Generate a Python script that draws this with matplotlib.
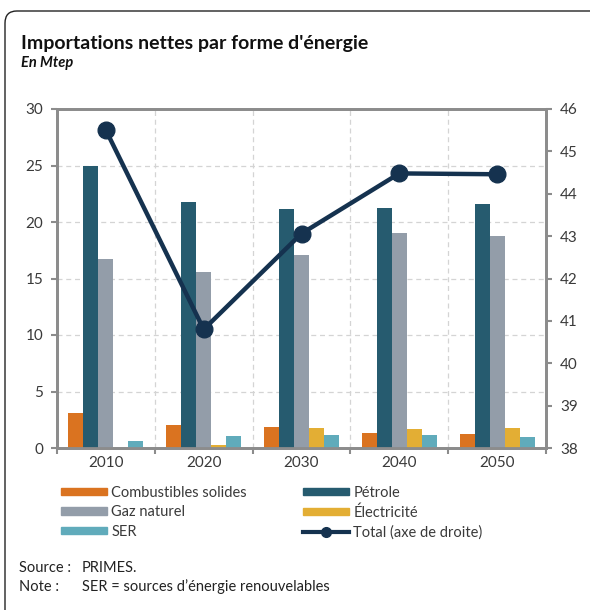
import matplotlib.pyplot as plt
from matplotlib.lines import Line2D
from matplotlib.patches import FancyBboxPatch, Patch


# ========================================================
# DONNEES
# ========================================================

annees = ["2010", "2020", "2030", "2040", "2050"]

combustibles_solides = [3.1, 2.0, 1.85, 1.35, 1.25]
petrole = [24.95, 21.75, 21.15, 21.2, 21.6]
gaz_naturel = [16.75, 15.6, 17.05, 19.0, 18.8]
electricite = [0.0, 0.27, 1.77, 1.65, 1.77]
ser = [0.58, 1.06, 1.15, 1.12, 0.95]

total = [45.5, 40.8, 43.06, 44.48, 44.46]

noms_series = [
    "Combustibles solides",
    "Pétrole",
    "Gaz naturel",
    "Électricité",
    "SER",
]

couleurs = [
    "#DA7320",
    "#265B6F",
    "#939DA9",
    "#E3AE34",
    "#60ABBB",
]

couleur_total = "#15324F"
couleur_texte = "#3a3a3a"
couleur_axe = "#8c8c8c"

plt.rcParams["font.family"] = ["Lato", "DejaVu Sans"]


def tracer_graphique(output_path):

    figure = plt.figure(
        figsize=(5.9, 6.1),
        dpi=100,
    )

    # ====================================================
    # CADRE ARRONDI
    # ====================================================

    cadre = FancyBboxPatch(
        (5 / 590, -0.05),
        1.1,
        1.05 - 11 / 610,
        boxstyle="round,pad=0,rounding_size=0.02",
        transform=figure.transFigure,
        facecolor="none",
        edgecolor="#222222",
        linewidth=1.0,
        clip_on=False,
    )
    figure.patches.append(cadre)

    # ====================================================
    # TITRES
    # ====================================================

    figure.text(
        21 / 590,
        1 - 43 / 610,
        "Importations nettes par forme d'énergie",
        fontsize=14,
        fontweight="bold",
        color="#111111",
        va="center",
    )

    figure.text(
        21 / 590,
        1 - 63 / 610,
        "En Mtep",
        fontsize=10.5,
        fontweight="bold",
        fontstyle="italic",
        color="#111111",
        va="center",
    )

    # ====================================================
    # BARRES
    # ====================================================

    axis = figure.add_axes(
        [57 / 590, 162 / 610, 489 / 590, 339 / 610]
    )

    largeur = 0.153
    positions = range(len(annees))
    series = [
        combustibles_solides,
        petrole,
        gaz_naturel,
        electricite,
        ser,
    ]

    for index, valeurs in enumerate(series):

        axis.bar(
            [p + (index - 2) * largeur for p in positions],
            valeurs,
            width=largeur,
            color=couleurs[index],
            label=noms_series[index],
            zorder=3,
        )

    axis.set_xlim(-0.5, len(annees) - 0.5)
    axis.set_ylim(0, 30)
    axis.set_yticks(range(0, 31, 5))

    axis.set_xticks([p - 0.5 for p in range(len(annees) + 1)])
    axis.set_xticklabels([])
    axis.set_xticks(list(positions), minor=True)
    axis.set_xticklabels(annees, minor=True)

    axis.tick_params(
        axis="x",
        which="major",
        direction="out",
        length=4,
        width=1.5,
        color=couleur_axe,
    )
    axis.tick_params(
        axis="x",
        which="minor",
        length=0,
        pad=6,
        labelsize=11,
        labelcolor=couleur_texte,
    )
    axis.tick_params(
        axis="y",
        direction="out",
        length=4,
        width=1.5,
        color=couleur_axe,
        labelsize=11,
        labelcolor=couleur_texte,
        pad=6,
    )

    axis.grid(
        True,
        which="major",
        color="#d4d4d4",
        linestyle=(0, (4, 3)),
        linewidth=0.9,
        zorder=0,
    )

    for spine in axis.spines.values():
        spine.set_color(couleur_axe)
        spine.set_linewidth(2)

    # ====================================================
    # TOTAL (AXE DE DROITE)
    # ====================================================

    axis_droite = axis.twinx()

    axis_droite.plot(
        list(positions),
        total,
        color=couleur_total,
        linewidth=3.2,
        marker="o",
        markersize=12,
        zorder=5,
    )

    axis_droite.set_ylim(38, 46)
    axis_droite.set_yticks(range(38, 47))
    axis_droite.tick_params(
        axis="y",
        direction="out",
        length=4,
        width=1.5,
        color=couleur_axe,
        labelsize=11,
        labelcolor=couleur_texte,
        pad=6,
    )

    for spine in axis_droite.spines.values():
        spine.set_color(couleur_axe)
        spine.set_linewidth(2)

    # ====================================================
    # LEGENDE
    # ====================================================

    poignees = [
        Patch(color=couleurs[0], label=noms_series[0]),
        Patch(color=couleurs[2], label=noms_series[2]),
        Patch(color=couleurs[4], label=noms_series[4]),
        Patch(color=couleurs[1], label=noms_series[1]),
        Patch(color=couleurs[3], label=noms_series[3]),
        Line2D(
            [0],
            [0],
            color=couleur_total,
            linewidth=3,
            marker="o",
            markersize=7,
            label="Total (axe de droite)",
        ),
    ]

    figure.legend(
        handles=poignees,
        ncol=2,
        loc="upper left",
        bbox_to_anchor=(61 / 590, 1 - 486 / 610),
        frameon=False,
        fontsize=10.5,
        labelcolor=couleur_texte,
        handlelength=3.15,
        handleheight=0.4,
        handletextpad=0.3,
        columnspacing=3.85,
        labelspacing=0.36,
        borderaxespad=0,
        borderpad=0,
    )

    # ====================================================
    # SOURCE ET NOTE
    # ====================================================

    lignes_notes = [
        ("Source :", "PRIMES.", 568),
        ("Note :", "SER = sources d’énergie renouvelables", 587),
    ]

    for etiquette, texte, y_pixel in lignes_notes:

        figure.text(
            19 / 590,
            1 - y_pixel / 610,
            etiquette,
            fontsize=10.5,
            color="#222222",
            va="center",
        )
        figure.text(
            82 / 590,
            1 - y_pixel / 610,
            texte,
            fontsize=10.5,
            color="#222222",
            va="center",
        )

    # ====================================================
    # SAUVEGARDE
    # ====================================================

    figure.savefig(
        output_path,
        dpi=100,
    )

    plt.close(figure)


tracer_graphique("out.png")
